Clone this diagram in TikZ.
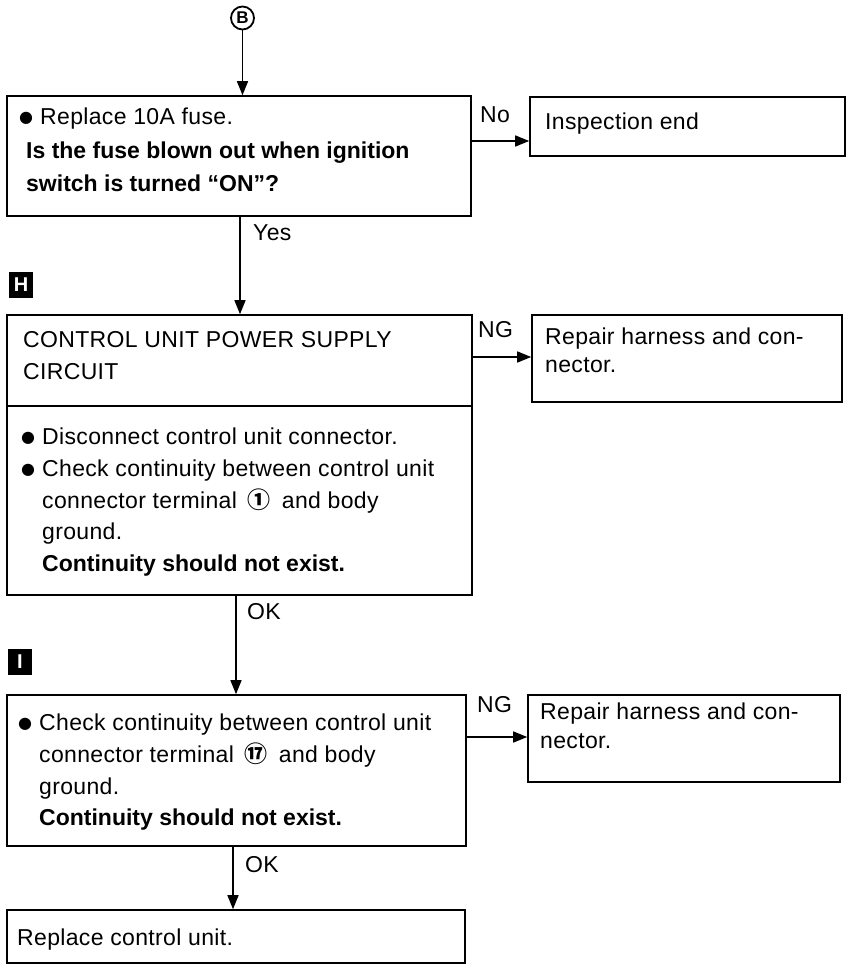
\documentclass[tikz,border=0pt]{standalone}
\usepackage{fontspec}
\setmainfont{Liberation Sans}[LetterSpace=1.5,BoldFeatures={LetterSpace=0}]
\newfontfamily\dejavu{DejaVu Sans}
\newfontfamily\cjkfont{Noto Sans CJK JP}
\usetikzlibrary{arrows.meta}
\newcommand{\circnum}[1]{\hspace{11pt}{\cjkfont\bfseries\fontsize{23}{23}\selectfont #1}\hspace{11pt}}
\newcommand{\blt}{\raisebox{1.5pt}{\dejavu\fontsize{16}{16}\selectfont ●}}
\begin{document}
\begin{tikzpicture}[x=1pt,y=-1pt,
  box/.style={draw, line width=1.6pt, inner sep=0pt},
  txt/.style={anchor=base west, inner sep=0pt, font=\fontsize{23}{28}\selectfont},
  btxt/.style={anchor=base west, inner sep=0pt, font=\fontsize{23}{28}\selectfont\bfseries},
  arr/.style={line width=1.5pt, -{Triangle[length=14pt,width=11pt]}},
  lbl/.style={anchor=west, inner sep=0pt, font=\fontsize{23}{28}\selectfont},
  marker/.style={fill=black, text=white, inner sep=0pt, minimum width=24pt, minimum height=26pt, font=\fontsize{20}{20}\selectfont\bfseries}]
\useasboundingbox (0,0) rectangle (854,966);

% circle B
\node[circle, draw, line width=1.8pt, minimum size=23pt, inner sep=0pt, font=\fontsize{17}{17}\selectfont\bfseries] (B) at (242.5,18) {B};

% box 1
\node[box, minimum width=464pt, minimum height=120pt] (b1) at (239,156) {};
\node[txt] (t1a) at (19,124) {\blt};
\node[txt] (t1b) at (40,124) {Replace 10A fuse.};
\node[btxt] (t1c) at (26,158) {Is the fuse blown out when ignition};
\node[btxt] (t1d) at (26,191) {switch is turned “ON”?};

% inspection end
\node[box, minimum width=315pt, minimum height=59pt] (ie) at (687.5,126.5) {};
\node[txt] (tie) at (545,129) {Inspection end};

% H marker
\node[marker] (H) at (21,285) {H};

% box 2
\node[box, minimum width=465pt, minimum height=280pt] (b2) at (239.5,455) {};
\coordinate (dv) at (0,406);
\draw[line width=1.6pt] (b2.west |- dv) -- (b2.east |- dv);
\node[txt] (t2a) at (23,347) {CONTROL UNIT POWER SUPPLY};
\node[txt] (t2b) at (23,379) {CIRCUIT};
\node[txt] (t2c) at (21,444) {\blt};
\node[txt] (t2d) at (42,444) {Disconnect control unit connector.};
\node[txt] (t2e) at (21,476) {\blt};
\node[txt] (t2f) at (42,476) {Check continuity between control unit};
\node[txt] (t2g) at (42,508) {connector terminal\circnum{①}and body};
\node[txt] (t2h) at (42,539) {ground.};
\node[btxt] (t2i) at (42,571) {Continuity should not exist.};

% repair 1
\node[box, minimum width=310pt, minimum height=87pt] (r1) at (687,358.5) {};
\node[txt] (tr1a) at (545,344) {Repair harness and con-};
\node[txt] (tr1b) at (545,372) {nector.};

% I marker
\node[marker] (I) at (20,662) {I};

% box 3
\node[box, minimum width=459pt, minimum height=151pt] (b3) at (236.5,770.5) {};
\node[txt] (t3a) at (18,730) {\blt};
\node[txt] (t3b) at (39,730) {Check continuity between control unit};
\node[txt] (t3c) at (39,762) {connector terminal\circnum{⑰}and body};
\node[txt] (t3d) at (39,794) {ground.};
\node[btxt] (t3e) at (39,825) {Continuity should not exist.};

% repair 2
\node[box, minimum width=312pt, minimum height=87pt] (r2) at (684,738.5) {};
\node[txt] (tr2a) at (540,719) {Repair harness and con-};
\node[txt] (tr2b) at (540,748) {nector.};

% box 4
\node[box, minimum width=458pt, minimum height=53pt] (b4) at (236,936.5) {};
\node[txt] (t4) at (17,945) {Replace control unit.};

% connectors
\coordinate (x0) at (242.5,0);
\coordinate (x1) at (240,0);
\coordinate (x2) at (236,0);
\coordinate (x3) at (233,0);
\coordinate (yno) at (0,141);
\coordinate (yng1) at (0,357);
\coordinate (yng2) at (0,737);

\draw[arr] (B.south) -- (b1.north -| x0);
\draw[arr] (b1.east |- yno) -- (ie.west |- yno);
\draw[arr] (b1.south -| x1) -- (b2.north -| x1);
\draw[arr] (b2.east |- yng1) -- (r1.west |- yng1);
\draw[arr] (b2.south -| x2) -- (b3.north -| x2);
\draw[arr] (b3.east |- yng2) -- (r2.west |- yng2);
\draw[arr] (b3.south -| x3) -- (b4.north -| x3);

% labels
\node[lbl] (lno) at (480,115) {No};
\node[lbl] (lyes) at (253,233) {Yes};
\node[lbl] (lng1) at (478,330) {NG};
\node[lbl] (lok1) at (247,612) {OK};
\node[lbl] (lng2) at (477,705) {NG};
\node[lbl] (lok2) at (245,865) {OK};
\end{tikzpicture}
\end{document}
